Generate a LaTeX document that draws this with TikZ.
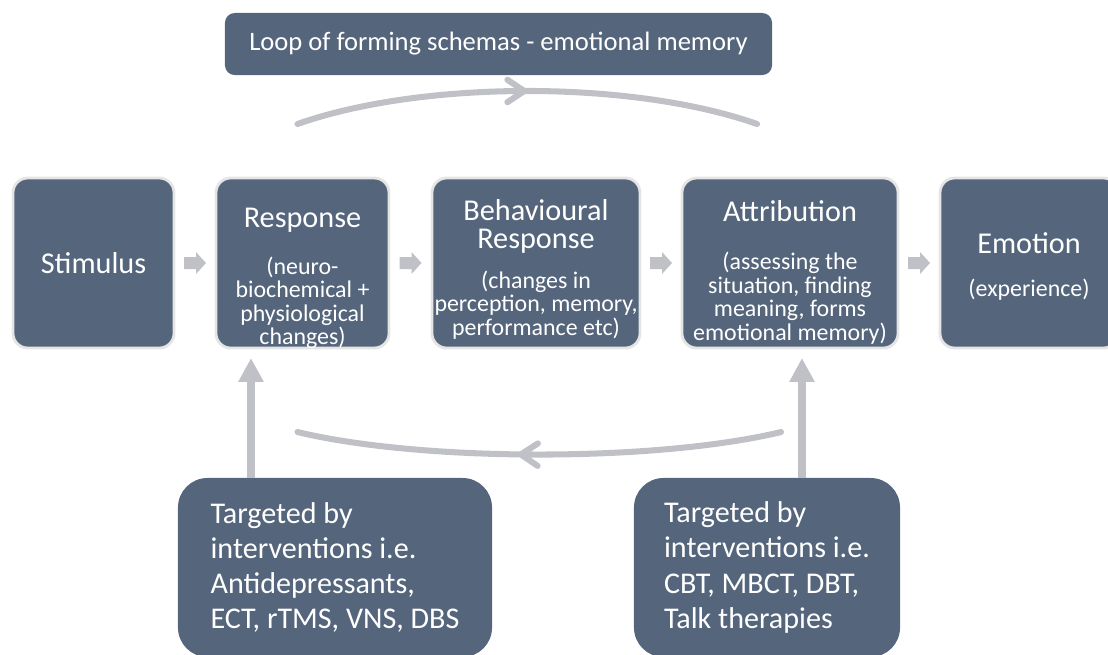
\documentclass[tikz,border=0pt]{standalone}
\usepackage{fontspec}
\setmainfont{Carlito}
\usetikzlibrary{calc,arrows.meta,decorations.markings}

\definecolor{slate}{RGB}{84,101,124}
\definecolor{arrowgray}{RGB}{191,193,198}
\newcommand{\headfont}{\fontsize{21.5pt}{19.9pt}\selectfont}
\newcommand{\subfont}{\fontsize{17pt}{16.7pt}\selectfont\lineskiplimit=-50pt\relax}
\newcommand{\tgtfont}{\fontsize{21.4pt}{25pt}\selectfont\lineskiplimit=-50pt\relax}
\def\gaparrow(#1)(#2){\path ($(#1.east)!0.5!(#2.west)$) coordinate (gap);
  \fill[arrowgray] (gap) ++(-11,-6) -- ++(12,0) -- ++(0,-5) -- ++(10,11) -- ++(-10,11) -- ++(0,-5) -- ++(-12,0) -- cycle;}

\begin{document}
\begin{tikzpicture}[x=0.025cm, y=-0.025cm,
  stagebox/.style={fill=slate, draw=black!10, line width=2pt, rounded corners=10.5pt, minimum height=4.25cm, text=white, inner sep=0pt, outer sep=0pt},
  stagetext/.style={text=white, align=center, font=\subfont, inner sep=0pt},
  loopbox/.style={fill=slate, rounded corners=7pt, minimum width=13.675cm, minimum height=1.55cm, text=white, font=\fontsize{18.9pt}{22pt}\selectfont},
  targetbox/.style={fill=slate, rounded corners=21pt, minimum height=4.475cm, text=white, align=left, font=\tgtfont},
  loopline/.style={draw=arrowgray, line width=4.3pt, line cap=round},
  uparrow/.style={draw=arrowgray, line width=5.7pt, -{Triangle[length=17pt,width=17pt]}},
]
  \useasboundingbox (0,0) rectangle (1108,654);
  \clip (0,0) rectangle (1108,654);

  %%% top label
  \node[loopbox] (loop) at (498.5,44) {Loop of forming schemas - emotional memory};

  %%% the five stages
  \node[stagebox, minimum width=4.025cm, font=\headfont] (stim) at (93.5,263) {Stimulus};
  \node[stagebox, minimum width=4.325cm] (resp) at (302.5,263) {};
  \node[stagebox, minimum width=5.2cm] (behav) at (536,263) {};
  \node[stagebox, minimum width=5.4cm] (attr) at (790,263) {};
  \node[stagebox, minimum width=4.45cm] (emot) at (1029,263) {};

  \node[stagetext] (respTxt) at ($(resp)+(0,15.5)$) {{\headfont Response}\\[16.4pt] (neuro-\\ biochemical +\\ physiological\\ changes)};
  \node[stagetext] (behavTxt) at ($(behav)+(0,6)$) {{\headfont Behavioural}\\[3.2pt] {\headfont Response}\\[11.8pt] (changes in\\ perception, memory,\\ performance etc)};
  \node[stagetext] (attrTxt) at ($(attr)+(0,9)$) {{\headfont Attribution}\\[17.9pt] (assessing the\\ situation, finding\\ meaning, forms\\ emotional memory)};
  \node[stagetext] (emotTxt) at ($(emot)+(0,3.5)$) {{\headfont Emotion}\\[14.3pt] (experience)};

  \gaparrow(stim)(resp)
  \gaparrow(resp)(behav)
  \gaparrow(behav)(attr)
  \gaparrow(attr)(emot)

  %%% interventions
  \node[targetbox, minimum width=7.85cm] (leftTgt) at (335,567.5) {Targeted by\\ interventions i.e.\\ Antidepressants,\\ ECT, rTMS, VNS, DBS};
  \node[targetbox, minimum width=6.65cm] (rightTgt) at (767,567.5) {Targeted by\\ interventions i.e.\\ CBT, MBCT, DBT,\\ Talk therapies};

  %%% loop arcs
  \coordinate (topL) at ($(resp.north)+(-5,-54)$);
  \coordinate (topR) at ($(attr.north)+(-33,-54)$);
  \draw[loopline, postaction={decorate}, decoration={markings, mark=at position 0.5 with {\arrow{Straight Barb[round,length=12pt,width=16pt]}}}]
    (topL) .. controls ($(topL)+(125,-44)$) and ($(topR)+(-125,-44)$) .. (topR);

  \coordinate (botR) at ($(attr.south)+(-9,84)$);
  \coordinate (botL) at ($(resp.south)+(-5,84)$);
  \draw[loopline, postaction={decorate}, decoration={markings, mark=at position 0.544 with {\arrow{Straight Barb[round,length=12pt,width=16pt]}}}]
    (botR) .. controls ($(botR)+(-125,30)$) and ($(botL)+(125,30)$) .. (botL);

  %%% arrows up from the interventions
  \coordinate (respTip) at ($(resp.south west)+(35,10)$);
  \coordinate (attrTip) at ($(attr.south west)+(120,10)$);
  \draw[uparrow] (leftTgt.north -| respTip) -- (respTip);
  \draw[uparrow] (rightTgt.north -| attrTip) -- (attrTip);
\end{tikzpicture}
\end{document}
